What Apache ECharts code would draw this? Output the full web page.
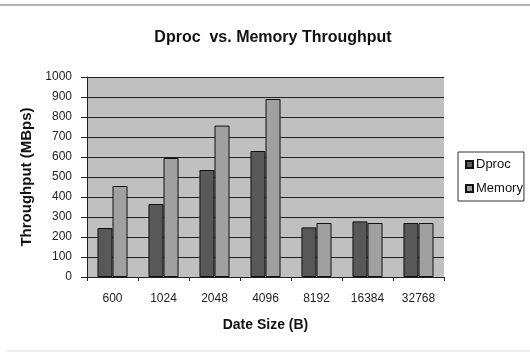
<!DOCTYPE html>
<html><head><meta charset="utf-8">
<script src="https://cdn.jsdelivr.net/npm/echarts@6/dist/echarts.min.js"></script>
<style>html,body{margin:0;padding:0;background:#fff}#c{width:530px;height:352px}</style>
</head><body><div id="c"></div>
<script>
const categories = ['600','1024','2048','4096','8192','16384','32768'];
const dproc = [245, 365, 535, 630, 248, 278, 270];
const memory = [455, 595, 757, 890, 270, 270, 270];
const yTicks = [0,100,200,300,400,500,600,700,800,900,1000];

const chart = echarts.init(document.getElementById('c'), null, {renderer:'canvas'});
const F = 'Liberation Sans, Arial, sans-serif';
chart.setOption({
  animation:false,
  backgroundColor:'#fff',
  textStyle:{fontFamily:F},
  title:{text:'Dproc  vs. Memory Throughput', left:268, textAlign:'center', top:25,
    textStyle:{fontFamily:F, fontSize:16, fontWeight:'bold', color:'#111'}},
  legend:{orient:'vertical', left:458, top:152, itemWidth:7, itemHeight:7, itemGap:11,
    borderColor:'#333', borderWidth:1, padding:[6,1,6,7], icon:'rect',
    textStyle:{fontFamily:F, fontSize:13, color:'#111', padding:[0,0,0,-2]},
    data:['Dproc','Memory']},
  graphic:[
    {type:'line', shape:{x1:0,y1:5,x2:530,y2:5}, style:{stroke:'#666',lineWidth:1}},
    {type:'line', shape:{x1:7,y1:351,x2:530,y2:351}, style:{stroke:'#ddd',lineWidth:1}}
  ],
  grid:{left:87, right:86, top:77, bottom:75, show:true, backgroundColor:'#c0c0c0', borderColor:'#c0c0c0', borderWidth:0},
  xAxis:{type:'category', data:categories,
    axisLine:{show:true, lineStyle:{color:'#222'}},
    axisTick:{show:true, length:4, lineStyle:{color:'#222'}},
    axisLabel:{fontFamily:F, fontSize:12, color:'#222', margin:16},
    name:'Date Size (B)', nameLocation:'middle', nameGap:41,
    nameTextStyle:{fontFamily:F, fontSize:14, fontWeight:'bold', color:'#111'}},
  yAxis:{type:'value', min:0, max:1000, interval:100,
    axisLine:{show:true, lineStyle:{color:'#222'}},
    axisTick:{show:true, length:6, lineStyle:{color:'#222'}},
    splitLine:{show:true, lineStyle:{color:'#222', width:1}},
    axisLabel:{fontFamily:F, fontSize:12, color:'#222', margin:15,
      formatter:v=>yTicks.includes(v)?String(v):''},
    name:'Throughput (MBps)', nameLocation:'middle', nameGap:48, nameRotate:90,
    nameTextStyle:{fontFamily:F, fontSize:15, fontWeight:'bold', color:'#111'}},
  series:[
    {name:'Dproc', type:'bar', data:dproc, barGap:'0%', barCategoryGap:'41%',
      itemStyle:{color:'#585858', borderColor:'#111', borderWidth:1}},
    {name:'Memory', type:'bar', data:memory,
      itemStyle:{color:'#a0a0a0', borderColor:'#111', borderWidth:1}}
  ]
});
</script></body></html>
